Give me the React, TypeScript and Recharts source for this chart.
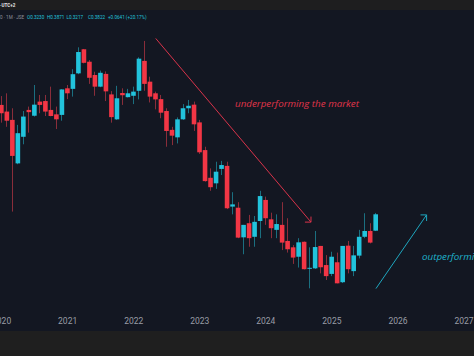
import React from 'react';
import { ComposedChart, Bar, XAxis, YAxis, ReferenceLine } from 'recharts';

// Monthly candles, Jan 2020 .. Sep 2025
const months: string[] = [
  '2020-01','2020-02','2020-03','2020-04','2020-05','2020-06','2020-07','2020-08','2020-09','2020-10','2020-11','2020-12',
  '2021-01','2021-02','2021-03','2021-04','2021-05','2021-06','2021-07','2021-08','2021-09','2021-10','2021-11','2021-12',
  '2022-01','2022-02','2022-03','2022-04','2022-05','2022-06','2022-07','2022-08','2022-09','2022-10','2022-11','2022-12',
  '2023-01','2023-02','2023-03','2023-04','2023-05','2023-06','2023-07','2023-08','2023-09','2023-10','2023-11','2023-12',
  '2024-01','2024-02','2024-03','2024-04','2024-05','2024-06','2024-07','2024-08','2024-09','2024-10','2024-11','2024-12',
  '2025-01','2025-02','2025-03','2025-04','2025-05','2025-06','2025-07','2025-08','2025-09',
];

const opens: number[] = [
  0.777,0.753,0.723,0.566,0.662,0.759,0.738,0.789,0.791,0.759,0.743,0.741,
  0.837,0.835,0.891,0.978,0.933,0.885,0.843,0.889,0.815,0.725,0.820,0.805,
  0.810,0.828,0.936,0.861,0.819,0.798,0.755,0.687,0.660,0.725,0.765,0.778,
  0.714,0.614,0.514,0.494,0.546,0.557,0.410,0.406,0.299,0.350,0.301,0.358,
  0.434,0.364,0.326,0.344,0.286,0.263,0.229,0.283,0.186,0.187,0.268,0.199,
  0.167,0.209,0.137,0.269,0.177,0.233,0.301,0.322,0.3230,
];
const highs: number[] = [
  0.809,0.819,0.765,0.705,0.755,0.771,0.849,0.813,0.813,0.843,0.771,0.834,
  0.849,0.906,0.985,0.979,0.939,0.897,0.901,0.898,0.827,0.846,0.837,0.835,
  0.843,0.949,1.008,0.879,0.825,0.813,0.765,0.698,0.732,0.780,0.795,0.789,
  0.723,0.626,0.548,0.572,0.575,0.572,0.462,0.426,0.344,0.380,0.376,0.467,
  0.446,0.388,0.382,0.426,0.368,0.271,0.296,0.284,0.263,0.322,0.268,0.235,
  0.247,0.244,0.268,0.286,0.268,0.326,0.386,0.350,0.3871,
];
const lows: number[] = [
  0.713,0.698,0.392,0.563,0.635,0.677,0.735,0.747,0.737,0.736,0.690,0.720,
  0.798,0.807,0.888,0.927,0.853,0.810,0.841,0.791,0.713,0.723,0.777,0.804,
  0.780,0.797,0.828,0.786,0.761,0.729,0.626,0.632,0.638,0.723,0.747,0.683,
  0.600,0.500,0.467,0.474,0.524,0.401,0.382,0.296,0.238,0.265,0.265,0.296,
  0.344,0.296,0.296,0.253,0.244,0.203,0.190,0.183,0.115,0.185,0.169,0.145,
  0.159,0.133,0.134,0.169,0.159,0.223,0.296,0.277,0.3217,
];
const closes: number[] = [
  0.747,0.720,0.593,0.675,0.735,0.751,0.778,0.777,0.753,0.737,0.725,0.833,
  0.819,0.888,0.968,0.929,0.875,0.843,0.893,0.826,0.733,0.801,0.812,0.819,
  0.825,0.944,0.853,0.807,0.797,0.749,0.683,0.666,0.725,0.765,0.774,0.707,
  0.606,0.502,0.480,0.536,0.560,0.404,0.418,0.298,0.344,0.296,0.355,0.448,
  0.368,0.332,0.347,0.280,0.256,0.226,0.281,0.184,0.189,0.264,0.191,0.159,
  0.229,0.133,0.268,0.184,0.234,0.301,0.322,0.280,0.3822,
];

const yearTicks: number[] = [0, 12, 24, 36, 48, 60, 72, 84];
const yearLabels: string[] = ['2020', '2021', '2022', '2023', '2024', '2025', '2026', '2027'];

// annotation arrows in data coordinates (month index, price)
const downArrow = [{ x: 28.0, y: 1.017 }, { x: 56.2, y: 0.354 }];
const downHeadA = [{ x: 56.2, y: 0.354 }, { x: 56.2, y: 0.374 }];
const downHeadB = [{ x: 56.2, y: 0.354 }, { x: 55.1, y: 0.354 }];
const upArrow = [{ x: 68.0, y: 0.114 }, { x: 77.2, y: 0.380 }];
const upHeadA = [{ x: 77.2, y: 0.380 }, { x: 76.1, y: 0.380 }];
const upHeadB = [{ x: 77.2, y: 0.380 }, { x: 77.2, y: 0.358 }];

const UP = '#22c3dc';
const DN = '#f23645';
const WICK_UP = '#1b6f80';
const WICK_DN = '#8a2d3a';

const data = months.map((m, i) => ({ i, m, o: opens[i], h: highs[i], l: lows[i], c: closes[i] }));

const Candle = (props: any) => {
  const { x, y, width, height, payload } = props;
  if (!payload) return null;
  const { o, h, l, c } = payload;
  const up = c >= o;
  const cx = x + width / 2;
  const pix = (v: number) => y + ((h - v) / (h - l)) * height;
  const top = pix(Math.max(o, c));
  const bot = pix(Math.min(o, c));
  const bw = 4.6;
  const wx = Math.round(cx - 0.5) + 0.5;
  return (
    <g>
      <line x1={wx} x2={wx} y1={y} y2={y + height} stroke={up ? WICK_UP : WICK_DN} strokeWidth={1} />
      <rect x={cx - bw / 2} y={top} width={bw} height={Math.max(1, bot - top)} fill={up ? UP : DN} />
    </g>
  );
};

export default function App() {
  return (
    <div
      style={{
        position: 'fixed',
        left: 0,
        top: 0,
        width: 474,
        height: 356,
        background: '#131722',
        overflow: 'hidden',
      }}
    >
      <div style={{ position: 'absolute', left: 0, top: 0, width: 474, height: 10, background: '#1e1e1f' }} />
      <div style={{ position: 'absolute', left: 0, top: 331, width: 474, height: 25, background: '#1f1f1f' }} />
      <div style={{ position: 'absolute', left: 0, top: 0 }}>
        <ComposedChart width={474} height={356} data={data} margin={{ top: 10, right: 0, left: 0, bottom: 0 }}>
          <XAxis
            dataKey="i"
            type="number"
            domain={[-0.29, 85.81]}
            allowDataOverflow
            ticks={yearTicks}
            interval={0}
            tickFormatter={(v: number) => yearLabels[yearTicks.indexOf(v)]}
            height={45}
            axisLine={false}
            tickLine={false}
            tickSize={0}
            tickMargin={7}
            tick={{ fill: '#9a9da6', fontSize: 8.5, fontFamily: 'Roboto' }}
          />
          <YAxis hide domain={[0.0331, 1.1197]} allowDataOverflow />
          <Bar dataKey={(d: any) => [d.l, d.h]} barSize={5} shape={<Candle />} isAnimationActive={false} />
          <ReferenceLine segment={downArrow} stroke="#d8334a" strokeWidth={1} ifOverflow="visible" />
          <ReferenceLine segment={downHeadA} stroke="#d8334a" strokeWidth={1} ifOverflow="visible" />
          <ReferenceLine segment={downHeadB} stroke="#d8334a" strokeWidth={1} ifOverflow="visible" />
          <ReferenceLine segment={upArrow} stroke="#1ea6bf" strokeWidth={1} ifOverflow="visible" />
          <ReferenceLine segment={upHeadA} stroke="#1ea6bf" strokeWidth={1} ifOverflow="visible" />
          <ReferenceLine segment={upHeadB} stroke="#1ea6bf" strokeWidth={1} ifOverflow="visible" />
        </ComposedChart>
      </div>
      <svg width={474} height={356} style={{ position: 'absolute', left: 0, top: 0, pointerEvents: 'none' }}>
        <text x={0} y={7.4} fontSize={4.6} fontWeight={700} fill="#e6e6e6" fontFamily="Roboto">·UTC+2</text>
        <text y={18.6} fontSize={4.6} fontFamily="Roboto">
          <tspan x={0} fill="#8f929b">0 · 1M · JSE</tspan>
          <tspan x={27} fill="#22c3dc">O0.3230</tspan>
          <tspan x={47} fill="#22c3dc">H0.3871</tspan>
          <tspan x={66.5} fill="#22c3dc">L0.3217</tspan>
          <tspan x={88} fill="#22c3dc">C0.3822</tspan>
          <tspan x={108} fill="#22c3dc">+0.0641 (+20.17%)</tspan>
        </text>
        <text x={235} y={106.5} fontSize={9.8} fontStyle="italic" fill="#e0354a" fontFamily="Open Sans">
          underperforming the market
        </text>
        <text x={422} y={259.5} fontSize={9.8} fontStyle="italic" fill="#1fb3cc" fontFamily="Open Sans">
          outperforming the market
        </text>
      </svg>
    </div>
  );
}
